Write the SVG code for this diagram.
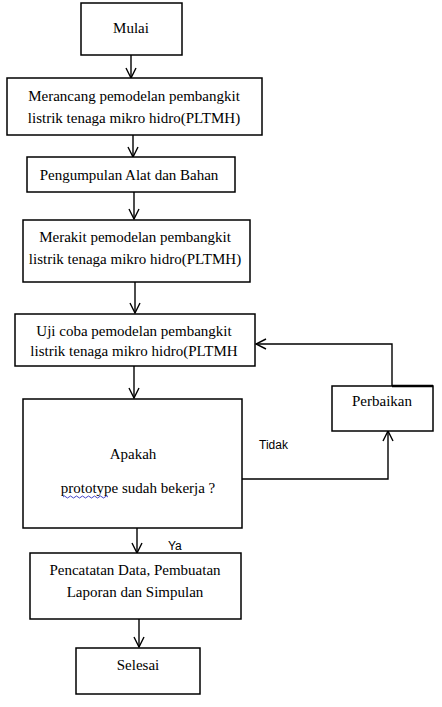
<svg xmlns="http://www.w3.org/2000/svg" width="442" height="707" viewBox="0 0 442 707">
<defs>
<marker id="arr" viewBox="0 0 12 12" refX="11" refY="6" markerWidth="12" markerHeight="12" markerUnits="userSpaceOnUse" orient="auto">
<polyline points="1,1 11,6 1,11" fill="none" stroke="#000" stroke-width="1.4"/>
</marker>
<style>
.box{fill:#fff;stroke:#000;stroke-width:1.5}
.t{font-family:"Liberation Serif","Times New Roman",serif;font-size:15px;fill:#000;text-anchor:middle}
.s{font-family:"Liberation Sans",Arial,sans-serif;font-size:12px;fill:#000}
.c{fill:none;stroke:#000;stroke-width:1.4}
</style>
</defs>
<rect width="442" height="707" fill="#fff"/>
<g id="connectors">
<line class="c" x1="131" y1="55" x2="131" y2="78" marker-end="url(#arr)"/>
<line class="c" x1="133" y1="135" x2="133" y2="157" marker-end="url(#arr)"/>
<line class="c" x1="134" y1="192" x2="134" y2="219" marker-end="url(#arr)"/>
<line class="c" x1="135" y1="282" x2="135" y2="313" marker-end="url(#arr)"/>
<line class="c" x1="134" y1="366" x2="134" y2="398" marker-end="url(#arr)"/>
<polyline class="c" points="242,479 388,479 388,431" marker-end="url(#arr)"/>
<polyline class="c" points="392,386 392,344 256,344" marker-end="url(#arr)"/>
<line class="c" x1="137" y1="528" x2="137" y2="553" marker-end="url(#arr)"/>
<line class="c" x1="139" y1="619" x2="139" y2="647" marker-end="url(#arr)"/>
<text class="s" x="259" y="449">Tidak</text>
<text class="s" x="168" y="550">Ya</text>
</g>
<g id="mulai">
<rect class="box" x="81" y="3" width="101" height="52"/>
<text class="t" x="131" y="33">Mulai</text>
</g>
<g id="merancang">
<rect class="box" x="7" y="78" width="255" height="57"/>
<text class="t" x="134" y="101">Merancang pemodelan pembangkit</text>
<text class="t" x="134" y="123">listrik tenaga mikro hidro(PLTMH)</text>
</g>
<g id="pengumpulan">
<rect class="box" x="27" y="157" width="208" height="35"/>
<text class="t" x="129" y="180">Pengumpulan Alat dan Bahan</text>
</g>
<g id="merakit">
<rect class="box" x="23" y="220" width="227" height="62"/>
<text class="t" x="135" y="242">Merakit pemodelan pembangkit</text>
<text class="t" x="135" y="264">listrik tenaga mikro hidro(PLTMH)</text>
</g>
<g id="ujicoba">
<rect class="box" x="15" y="314" width="240" height="52"/>
<text class="t" x="134" y="336">Uji coba pemodelan pembangkit</text>
<text class="t" x="134" y="356">listrik tenaga mikro hidro(PLTMH</text>
</g>
<g id="perbaikan">
<rect class="box" x="332" y="386" width="101" height="45"/>
<line x1="392" y1="386" x2="433" y2="386" stroke="#000" stroke-width="2.5"/>
<text class="t" x="382" y="406">Perbaikan</text>
</g>
<g id="apakah">
<rect class="box" x="23" y="399" width="219" height="129"/>
<text class="t" x="133" y="459">Apakah</text>
<text class="t" x="138" y="493">prototype sudah bekerja ?</text>
<path d="M63,497 q1.5,-2 3,0 t3,0 t3,0 t3,0 t3,0 t3,0 t3,0 t3,0 t3,0 t3,0 t3,0 t3,0 t3,0 t3,0 t3,0" fill="none" stroke="#3030c0" stroke-width="0.9"/>
</g>
<g id="pencatatan">
<rect class="box" x="30" y="553" width="211" height="66"/>
<text class="t" x="135" y="575">Pencatatan Data, Pembuatan</text>
<text class="t" x="135" y="597">Laporan dan Simpulan</text>
</g>
<g id="selesai">
<rect class="box" x="76" y="648" width="124" height="46"/>
<text class="t" x="138" y="670">Selesai</text>
</g>
</svg>
